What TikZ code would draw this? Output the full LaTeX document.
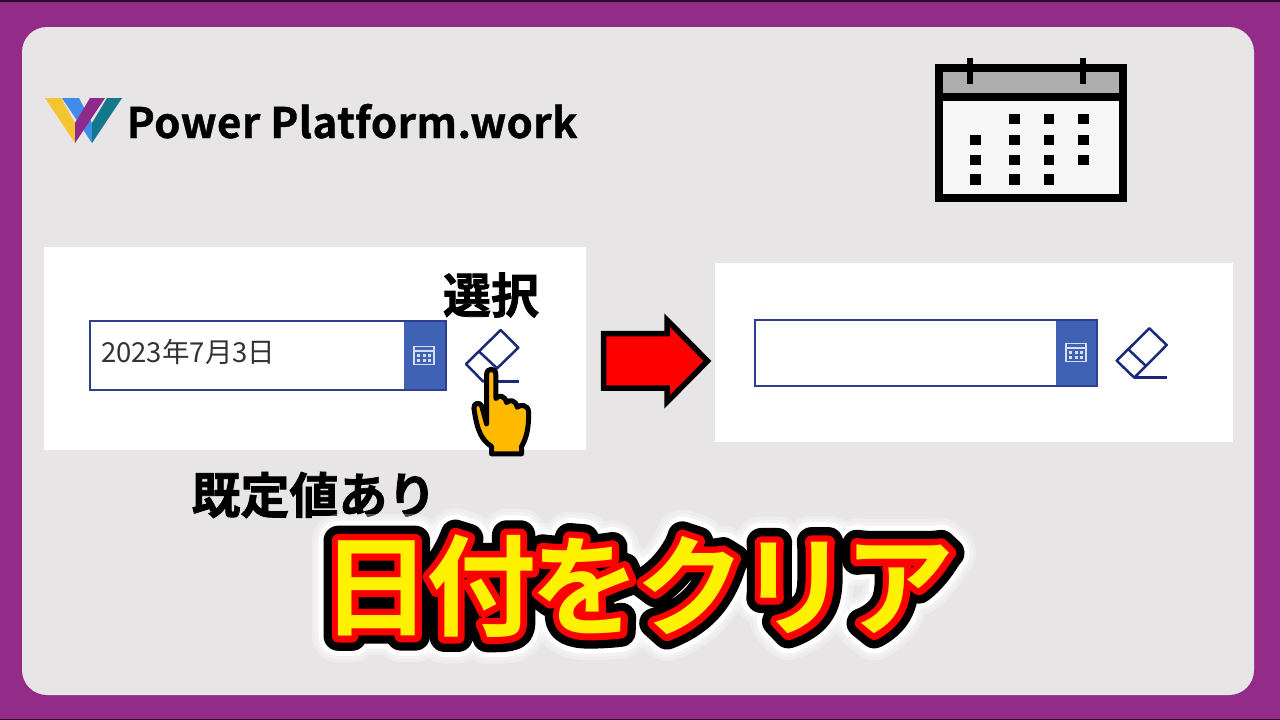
\documentclass[tikz,border=0pt]{standalone}
\usepackage{fontspec}
\newfontfamily\cjk{Noto Sans CJK JP}
\newfontface\cjkheavy{Noto Sans CJK JP Bold}[FakeBold=1.6]
\newfontface\logofont{Noto Sans CJK JP Bold}[LetterSpace=1.2,FakeBold=1]
\newfontface\titleyellow{Noto Sans CJK JP Bold}[LetterSpace=-4.9]
\newfontface\titlered{Noto Sans CJK JP Bold}[LetterSpace=-4.9,FakeBold=12]
\newfontface\titleblack{Noto Sans CJK JP Bold}[LetterSpace=-4.9,FakeBold=27]
\newfontface\titlewhite{Noto Sans CJK JP Bold}[LetterSpace=-4.9,FakeBold=36]
\newfontface\titleglowa{Noto Sans CJK JP Bold}[LetterSpace=-4.9,FakeBold=42]
\newfontface\titleglowb{Noto Sans CJK JP Bold}[LetterSpace=-4.9,FakeBold=48]
\definecolor{framepurple}{HTML}{922C88}
\definecolor{sheetgray}{HTML}{E7E5E6}
\definecolor{pickerblue}{HTML}{3F62B5}
\definecolor{pickerline}{HTML}{2F3F8F}
\definecolor{erasernavy}{HTML}{1A2A78}
\definecolor{handgold}{HTML}{FFB900}
\definecolor{iconlight}{HTML}{D5DDF0}
\definecolor{logoyellow}{HTML}{F5C431}
\definecolor{logoblue}{HTML}{3F8CEB}
\definecolor{logopurple}{HTML}{8E2A8C}
\definecolor{logoteal}{HTML}{14788C}
\newcommand{\titletext}{日付をクリア}
\tikzset{
  panel/.style={fill=white,draw=none},
  pickerbox/.style={draw=pickerline,line width=1.2pt},
  pickerbutton/.style={fill=pickerblue,draw=none},
  eraserline/.style={draw=erasernavy,line width=2.5pt,line join=round},
  caldot/.style={fill=black},
  titlelayer/.style={inner sep=0pt,line join=round},
  dateicon/.pic={
    \draw[iconlight,line width=1.3pt] (-10,-9) rectangle (10,9);
    \fill[iconlight] (-10,-5.2) rectangle (10,-3.8);
    \foreach \px in {-5.5,0,5.5} \foreach \py in {0,5}
      \fill[iconlight] (\px-1.5,\py-1.3) rectangle (\px+1.5,\py+1.3);
  }
}
\begin{document}
\begin{tikzpicture}[x=1pt,y=-1pt]
  \useasboundingbox (0,0) rectangle (1280,720);
  \fill[framepurple] (0,0) rectangle (1280,720);
  \fill[black!70!framepurple] (0,0) rectangle (1280,1.5);
  \fill[black!70!framepurple] (0,718.5) rectangle (1280,720);
  \fill[sheetgray,rounded corners=25pt] (22,27) rectangle (1254,695);

  % logo
  \fill[logoyellow] (45,98) -- (61,98) -- (75,123) -- (75,143) -- cycle;
  \fill[logoblue] (62,98) -- (79,98) -- (92,123) -- (92,143) -- cycle;
  \fill[logopurple] (90,98) -- (105,98) -- (75,143) -- (75,123) -- cycle;
  \fill[logoteal] (107,98) -- (122,98) -- (92,143) -- (92,123) -- cycle;
  \node[anchor=base west,inner sep=0pt] (logotext) at (126.5,138) {\fontsize{42}{42}\logofont Power Platform.work};

  % calendar
  \fill[black] (935,64) rectangle (1127,202);
  \fill[black!32] (943,72) rectangle (1119,93);
  \fill[black!3] (943,101) rectangle (1119,194);
  \fill[black] (966.7,58) rectangle (972.7,84);
  \fill[black] (1080,58) rectangle (1086,84);
  \foreach \dx/\dy in {1014.3/119,1049/119,1083.3/119,
                       975.3/140,1014.3/140,1049/140,1083.3/140,
                       975.3/159.7,1014.3/159.7,1049/159.7,1083.3/159.7,
                       975.3/179.3,1014.3/179.3,1049/179.3}
    \fill[caldot] (\dx-5.2,\dy-5.2) rectangle (\dx+5.2,\dy+5.2);

  % left panel
  \fill[panel] (44,247) rectangle (586,450);
  \fill[pickerbutton] (404,321) rectangle (446,390);
  \draw[pickerbox] (90,321) rectangle (446,390);
  \pic at (424,355.5) {dateicon};
  \node[anchor=base west,inner sep=0pt,text=black!80] (datetext) at (101,362) {\fontsize{27.5}{27.5}\cjk 2023年7月3日};
  \draw[eraserline] (500.7,330) -- (518.3,347.7) -- (483.3,381.7) -- (466,364) -- cycle;
  \draw[eraserline] (479.3,351.7) -- (496.7,368);
  \draw[eraserline] (484,381.7) -- (519,381.7);
  \node[inner sep=0pt] (selecttext) at (491,295) {\fontsize{48}{48}\cjkheavy 選択};

  % hand
  \begin{scope}[shift={(390,300)},x=0.333pt,y=-0.333pt]
    \draw[line width=5pt,fill=handgold,line join=round]
      (305,462) -- (305,440) .. controls (275,420) and (262,395) .. (252,325)
      .. controls (250,308) and (272,305) .. (276,320) -- (290,372) -- (290,225)
      .. controls (290,202) and (318,202) .. (318,225) -- (318,296)
      .. controls (325,285) and (345,285) .. (350,308)
      .. controls (358,298) and (378,300) .. (382,322)
      .. controls (392,312) and (415,315) .. (416,335)
      .. controls (418,380) and (410,415) .. (395,440) -- (395,462) -- cycle;
  \end{scope}

  \node[inner sep=0pt] (defaulttext) at (314,495) {\fontsize{49}{49}\cjkheavy 既定値あり};

  % arrow
  \draw[fill=red,line width=5.5pt,miter limit=10]
    (603.5,333.7) -- (667,333.7) -- (667,320) -- (707.5,361) -- (667,402) -- (667,388) -- (603.5,388) -- cycle;

  % right panel
  \fill[panel] (715,263) rectangle (1233,442);
  \fill[pickerbutton] (1056,320) rectangle (1097,386);
  \draw[pickerbox] (755,320) rectangle (1097,386);
  \pic at (1076,352.5) {dateicon};
  \draw[eraserline] (1149.3,328.3) -- (1166.7,345) -- (1134.3,377.7) -- (1116.7,360.7) -- cycle;
  \draw[eraserline] (1128.3,349.3) -- (1146,366);
  \draw[eraserline] (1134.3,377.7) -- (1167.3,377.7);

  % title
  \begin{scope}[opacity=.3]
    \node[titlelayer,text=white] (titleglowb) at (638,586) {\fontsize{110}{110}\titleglowb\titletext};
    \node[titlelayer,text=white] (titleglowa) at (638,586) {\fontsize{110}{110}\titleglowa\titletext};
  \end{scope}
  \node[titlelayer,text=white] (titlewhitelayer) at (638,586) {\fontsize{110}{110}\titlewhite\titletext};
  \node[titlelayer,text=black] (titleblacklayer) at (638,586) {\fontsize{110}{110}\titleblack\titletext};
  \node[titlelayer,text=red] (titleredlayer) at (638,586) {\fontsize{110}{110}\titlered\titletext};
  \node[titlelayer,text=yellow] (titleyellowlayer) at (638,586) {\fontsize{110}{110}\titleyellow\titletext};
\end{tikzpicture}
\end{document}
